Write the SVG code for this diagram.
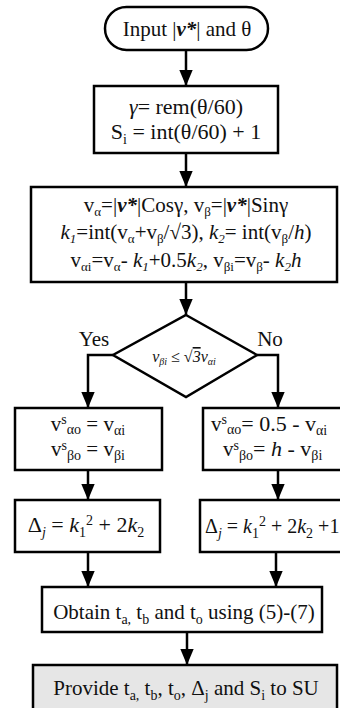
<svg xmlns="http://www.w3.org/2000/svg" width="340" height="708" viewBox="0 0 340 708">
<style>
.box{fill:#fff;stroke:#000;stroke-width:2.5}
.gray{fill:#e6e6e6;stroke:#000;stroke-width:2.5}
.conn{fill:none;stroke:#000;stroke-width:2.5}
text{font-family:"Liberation Serif","Times New Roman",serif;font-size:21px;fill:#111}
.c{text-anchor:middle}
.s{font-size:14px}
.t{font-size:13px}
.i{font-style:italic}
.b{font-weight:bold;font-style:italic}
</style>
<defs>
<marker id="av" markerUnits="userSpaceOnUse" markerWidth="16" markerHeight="16" refX="18" refY="7.5" orient="auto" viewBox="0 0 18 15">
<path d="M0,0 L18,7.5 L0,15 Z" fill="#000"/>
</marker>
</defs>
<g id="connectors">
<line class="conn" x1="186" y1="50" x2="186" y2="86" marker-end="url(#av)"/>
<line class="conn" x1="186" y1="153" x2="186" y2="187" marker-end="url(#av)"/>
<line class="conn" x1="186" y1="282" x2="186" y2="315" marker-end="url(#av)"/>
<polyline class="conn" points="113,355 88,355 88,408" marker-end="url(#av)"/>
<polyline class="conn" points="257,355 278,355 278,408" marker-end="url(#av)"/>
<line class="conn" x1="88" y1="470" x2="88" y2="500" marker-end="url(#av)"/>
<line class="conn" x1="278" y1="470" x2="278" y2="500" marker-end="url(#av)"/>
<line class="conn" x1="88" y1="552" x2="88" y2="587" marker-end="url(#av)"/>
<line class="conn" x1="276" y1="552" x2="276" y2="587" marker-end="url(#av)"/>
<line class="conn" x1="187" y1="632" x2="187" y2="665" marker-end="url(#av)"/>
<text x="94" y="346" class="c">Yes</text>
<text x="270" y="346" class="c">No</text>
</g>
<g id="start">
<rect class="box" x="105" y="7" width="163" height="43" rx="21.5"/>
<text x="187" y="36" class="c">Input |<tspan class="b">v*</tspan>| and θ</text>
</g>
<g id="sector">
<rect class="box" x="94" y="86" width="184" height="67"/>
<text x="186" y="114" class="c" style="font-size:22px"><tspan class="i">γ</tspan>= rem(θ/60)</text>
<text x="186" y="139" class="c" style="font-size:22px">S<tspan class="s" dy="5">i</tspan><tspan dy="-5"> = int(θ/60) + 1</tspan></text>
</g>
<g id="compute">
<rect class="box" x="31" y="187" width="306" height="95"/>
<text x="186" y="212" class="c">v<tspan class="t" dy="4">α</tspan><tspan dy="-4">=|</tspan><tspan class="b">v*</tspan>|Cosγ, v<tspan class="t" dy="4">β</tspan><tspan dy="-4">=|</tspan><tspan class="b">v*</tspan>|Sinγ</text>
<text x="186" y="239" class="c"><tspan class="i">k</tspan><tspan class="t i" dy="4">1</tspan><tspan dy="-4">=int(v</tspan><tspan class="t" dy="4">α</tspan><tspan dy="-4">+v</tspan><tspan class="t" dy="4">β</tspan><tspan dy="-4">/√3), </tspan><tspan class="i">k</tspan><tspan class="t i" dy="4">2</tspan><tspan dy="-4">= int(v</tspan><tspan class="t" dy="4">β</tspan><tspan dy="-4">/</tspan><tspan class="i">h</tspan>)</text>
<text x="186" y="267" class="c">v<tspan class="t" dy="4">αi</tspan><tspan dy="-4">=v</tspan><tspan class="t" dy="4">α</tspan><tspan dy="-4">- </tspan><tspan class="i">k</tspan><tspan class="t i" dy="4">1</tspan><tspan dy="-4">+0.5</tspan><tspan class="i">k</tspan><tspan class="t i" dy="4">2</tspan><tspan dy="-4">, v</tspan><tspan class="t" dy="4">βi</tspan><tspan dy="-4">=v</tspan><tspan class="t" dy="4">β</tspan><tspan dy="-4">- </tspan><tspan class="i">k</tspan><tspan class="t i" dy="4">2</tspan><tspan class="i" dy="-4">h</tspan></text>
</g>
<g id="decision">
<polygon class="box" points="186,315 257,355 186,397 113,355"/>
<text x="184" y="362" class="c i" style="font-size:16px">v<tspan style="font-size:10px" dy="3">βi</tspan><tspan dy="-3"> ≤ √</tspan><tspan style="text-decoration:overline">3</tspan>v<tspan style="font-size:10px" dy="3">αi</tspan></text>
</g>
<g id="yes-values">
<rect class="box" x="15" y="408" width="147" height="62"/>
<text x="88" y="431" class="c">v<tspan class="s" dy="-7">s</tspan><tspan class="s" dy="10">αo</tspan><tspan dy="-3"> = v</tspan><tspan class="s" dy="4">αi</tspan></text>
<text x="88" y="456" class="c">v<tspan class="s" dy="-6">s</tspan><tspan class="s" dy="10">βo</tspan><tspan dy="-4"> = v</tspan><tspan class="s" dy="4">βi</tspan></text>
</g>
<g id="no-values">
<rect class="box" x="203" y="408" width="140" height="62"/>
<text x="211" y="431">v<tspan class="s" dy="-7">s</tspan><tspan class="s" dy="10">αo</tspan><tspan dy="-3" style="font-size:22px">= 0.5 - v</tspan><tspan class="s" dy="4">αi</tspan></text>
<text x="223" y="456">v<tspan class="s" dy="-6">s</tspan><tspan class="s" dy="10">βo</tspan><tspan dy="-4" style="font-size:22px">= </tspan><tspan class="i" style="font-size:22px">h</tspan><tspan style="font-size:22px"> - v</tspan><tspan class="s" dy="4">βi</tspan></text>
</g>
<g id="yes-delta">
<rect class="box" x="15" y="500" width="145" height="52"/>
<text x="86" y="532" class="c" style="font-size:22px">Δ<tspan class="s i" dy="5">j</tspan><tspan dy="-5"> = </tspan><tspan class="i">k</tspan><tspan class="s" dy="5">1</tspan><tspan class="s" dy="-12">2</tspan><tspan dy="7"> + 2</tspan><tspan class="i">k</tspan><tspan class="s" dy="5">2</tspan></text>
</g>
<g id="no-delta">
<rect class="box" x="200" y="500" width="143" height="52"/>
<text x="205" y="533" style="font-size:20px">Δ<tspan class="s i" dy="5">j</tspan><tspan dy="-5"> = </tspan><tspan class="i">k</tspan><tspan class="s" dy="5">1</tspan><tspan class="s" dy="-12">2</tspan><tspan dy="7"> + 2</tspan><tspan class="i">k</tspan><tspan class="s" dy="5">2</tspan><tspan dy="-5"> +1</tspan></text>
</g>
<g id="obtain">
<rect class="box" x="42" y="587" width="280" height="45"/>
<text x="184" y="619" class="c">Obtain t<tspan class="s" dy="5">a,</tspan><tspan dy="-5"> t</tspan><tspan class="s" dy="5">b</tspan><tspan dy="-5"> and t</tspan><tspan class="s" dy="5">o</tspan><tspan dy="-5"> using (5)-(7)</tspan></text>
</g>
<g id="provide">
<rect class="gray" x="33" y="665" width="304" height="50"/>
<text x="186" y="695" class="c">Provide t<tspan class="s" dy="5">a,</tspan><tspan dy="-5"> t</tspan><tspan class="s" dy="5">b</tspan><tspan dy="-5">, t</tspan><tspan class="s" dy="5">o</tspan><tspan dy="-5">, Δ</tspan><tspan class="s" dy="5">j</tspan><tspan dy="-5"> and S</tspan><tspan class="s" dy="5">i</tspan><tspan dy="-5"> to SU</tspan></text>
</g>
</svg>
